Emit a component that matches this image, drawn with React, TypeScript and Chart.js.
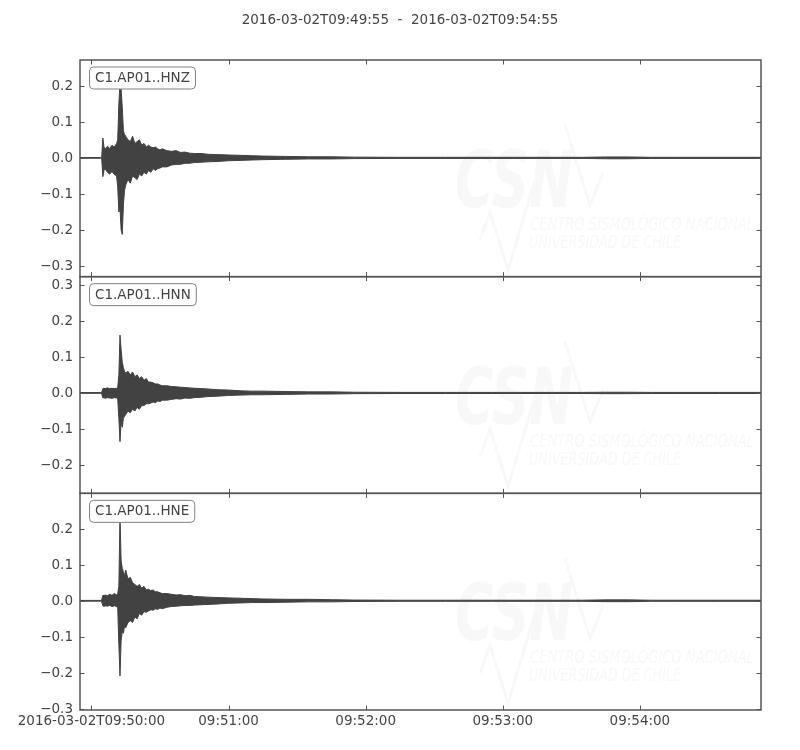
import React, { useEffect, useRef } from "react";
import { Chart, registerables } from "chart.js";

Chart.register(...registerables);

// ---------- data ----------
const TITLE = "2016-03-02T09:49:55  -  2016-03-02T09:54:55";
const CHANNELS = ["C1.AP01..HNZ", "C1.AP01..HNN", "C1.AP01..HNE"];

// seconds after 2016-03-02T09:49:55 (envelope sample times)
const T = [0, 9, 9.5, 10, 10.5, 11, 12, 13, 14, 15, 16,
  16.5, 17, 17.5, 18, 18.5, 19, 19.5, 20,
  21, 22, 23, 24, 25, 26, 27, 28, 29, 30, 31, 32, 33, 34, 35, 36,
  38, 40, 42, 44, 46, 48, 50,
  53, 56, 60,
  65, 70, 75, 80,
  90, 100, 110, 120,
  140, 160, 180, 200, 220, 230, 240, 250, 260, 280, 298];

// HNZ envelope
const HNZ_MAX = [0.001, 0.001, 0.002, 0.055, 0.03, 0.025, 0.032, 0.026, 0.035, 0.03, 0.04,
  0.05, 0.15, 0.205, 0.19, 0.14, 0.075, 0.065, 0.06,
  0.05, 0.045, 0.06, 0.04, 0.045, 0.05, 0.035, 0.04, 0.03, 0.035, 0.03, 0.028, 0.03, 0.025, 0.022, 0.025,
  0.02, 0.018, 0.02, 0.015, 0.016, 0.013, 0.012,
  0.012, 0.01, 0.009,
  0.008, 0.007, 0.006, 0.005,
  0.004, 0.003, 0.003, 0.002,
  0.0015, 0.0015, 0.0015, 0.0015, 0.0015, 0.0025, 0.0025, 0.0015, 0.0015, 0.0015, 0.0015];
const HNZ_MIN = [-0.001, -0.001, -0.002, -0.052, -0.035, -0.03, -0.04, -0.045, -0.038, -0.046, -0.05,
  -0.08, -0.15, -0.14, -0.2, -0.212, -0.13, -0.09, -0.075,
  -0.06, -0.07, -0.05, -0.055, -0.06, -0.045, -0.05, -0.04, -0.045, -0.035, -0.04, -0.03, -0.035, -0.03, -0.028, -0.025,
  -0.025, -0.02, -0.018, -0.018, -0.015, -0.015, -0.013,
  -0.012, -0.011, -0.01,
  -0.008, -0.007, -0.006, -0.005,
  -0.004, -0.003, -0.003, -0.002,
  -0.0015, -0.0015, -0.0015, -0.0015, -0.0015, -0.0025, -0.0025, -0.0015, -0.0015, -0.0015, -0.0015];

// HNN envelope
const HNN_MAX = [0.001, 0.001, 0.002, 0.012, 0.013, 0.012, 0.014, 0.012, 0.013, 0.012, 0.013,
  0.015, 0.05, 0.16, 0.12, 0.085, 0.07, 0.06, 0.055,
  0.06, 0.05, 0.058, 0.045, 0.05, 0.04, 0.045, 0.035, 0.04, 0.03, 0.03, 0.028, 0.025, 0.025, 0.022, 0.02,
  0.02, 0.018, 0.017, 0.016, 0.015, 0.014, 0.013,
  0.012, 0.011, 0.009,
  0.008, 0.006, 0.005, 0.005,
  0.004, 0.003, 0.003, 0.002,
  0.0015, 0.0015, 0.0015, 0.0015, 0.0015, 0.002, 0.002, 0.0015, 0.0015, 0.0015, 0.0015];
const HNN_MIN = [-0.001, -0.001, -0.002, -0.014, -0.013, -0.015, -0.013, -0.014, -0.015, -0.013, -0.014,
  -0.016, -0.07, -0.135, -0.08, -0.095, -0.07, -0.065, -0.06,
  -0.05, -0.055, -0.045, -0.05, -0.04, -0.045, -0.035, -0.035, -0.03, -0.03, -0.028, -0.025, -0.027, -0.022, -0.024, -0.02,
  -0.02, -0.018, -0.016, -0.017, -0.014, -0.015, -0.013,
  -0.012, -0.01, -0.009,
  -0.007, -0.006, -0.005, -0.005,
  -0.004, -0.003, -0.003, -0.002,
  -0.0015, -0.0015, -0.0015, -0.0015, -0.0015, -0.002, -0.002, -0.0015, -0.0015, -0.0015, -0.0015];

// HNE envelope
const HNE_MAX = [0.001, 0.001, 0.003, 0.015, 0.014, 0.016, 0.014, 0.018, 0.015, 0.02, 0.016,
  0.02, 0.04, 0.235, 0.11, 0.09, 0.08, 0.07, 0.085,
  0.06, 0.065, 0.05, 0.045, 0.04, 0.045, 0.035, 0.04, 0.03, 0.032, 0.028, 0.03, 0.025, 0.025, 0.022, 0.02,
  0.02, 0.018, 0.016, 0.017, 0.014, 0.015, 0.012,
  0.011, 0.01, 0.009,
  0.008, 0.007, 0.006, 0.005,
  0.004, 0.004, 0.003, 0.002,
  0.0015, 0.0015, 0.0015, 0.0015, 0.0015, 0.0025, 0.0025, 0.0015, 0.0015, 0.0015, 0.0015];
const HNE_MIN = [-0.001, -0.001, -0.003, -0.014, -0.016, -0.014, -0.015, -0.013, -0.016, -0.014, -0.016,
  -0.02, -0.12, -0.208, -0.11, -0.085, -0.09, -0.07, -0.075,
  -0.06, -0.055, -0.06, -0.045, -0.05, -0.035, -0.04, -0.03, -0.032, -0.028, -0.025, -0.026, -0.022, -0.024, -0.02, -0.022,
  -0.018, -0.016, -0.015, -0.014, -0.013, -0.013, -0.012,
  -0.011, -0.01, -0.009,
  -0.007, -0.006, -0.005, -0.005,
  -0.004, -0.003, -0.003, -0.002,
  -0.0015, -0.0015, -0.0015, -0.0015, -0.0015, -0.0025, -0.0025, -0.0015, -0.0015, -0.0015, -0.0015];

const X_RANGE = [0, 298];
const X_TICK_SECONDS = [5, 65, 125, 185, 245];
const X_TICK_LABELS = ["2016-03-02T09:50:00", "09:51:00", "09:52:00", "09:53:00", "09:54:00"];

const Y_RANGES = [[-0.329, 0.271], [-0.278, 0.322], [-0.3025, 0.2975]];
const Y_TICKS = [
  [0.2, 0.1, 0.0, -0.1, -0.2, -0.3],
  [0.3, 0.2, 0.1, 0.0, -0.1, -0.2],
  [0.2, 0.1, 0.0, -0.1, -0.2, -0.3],
];

// ---------- styles ----------
const TRACE = "#424242";
const FRAME = "#555555";
const TEXT = "#444444";
const FONT = "13.5px 'DejaVu Sans', sans-serif";
const WATERMARK = "#f8f8f8";

const fmt = (v: number) => (v < -1e-9 ? "\u2212" : "") + Math.abs(v).toFixed(1);

function roundRectPath(ctx: CanvasRenderingContext2D, x: number, y: number, w: number, h: number, r: number) {
  ctx.beginPath();
  ctx.moveTo(x + r, y);
  ctx.lineTo(x + w - r, y);
  ctx.quadraticCurveTo(x + w, y, x + w, y + r);
  ctx.lineTo(x + w, y + h - r);
  ctx.quadraticCurveTo(x + w, y + h, x + w - r, y + h);
  ctx.lineTo(x + r, y + h);
  ctx.quadraticCurveTo(x, y + h, x, y + h - r);
  ctx.lineTo(x, y + r);
  ctx.quadraticCurveTo(x, y, x + r, y);
  ctx.closePath();
}

const seismoPlugin = {
  id: "seismo",
  beforeDatasetsDraw(chart: any) {
    const ctx = chart.ctx as CanvasRenderingContext2D;
    const left = chart.chartArea.left;
    ctx.save();
    for (let p = 0; p < 3; p++) {
      const top = chart.scales["y" + p].top;
      ctx.fillStyle = WATERMARK;
      ctx.strokeStyle = WATERMARK;
      ctx.textAlign = "left";
      ctx.textBaseline = "alphabetic";
      ctx.font = "italic bold 78px 'DejaVu Sans', sans-serif";
      ctx.fillText("CSN", left + 375, top + 147, 118);
      ctx.font = "italic 17px 'DejaVu Sans', sans-serif";
      ctx.fillText("CENTRO SISMOLÓGICO NACIONAL", left + 450, top + 170, 224);
      ctx.fillText("UNIVERSIDAD DE CHILE", left + 449, top + 188, 152);
      ctx.lineWidth = 3;
      ctx.beginPath();
      ctx.moveTo(left + 400, top + 180);
      ctx.lineTo(left + 410, top + 152);
      ctx.lineTo(left + 428, top + 210);
      ctx.lineTo(left + 455, top + 120);
      ctx.moveTo(left + 485, top + 65);
      ctx.lineTo(left + 510, top + 145);
      ctx.lineTo(left + 523, top + 113);
      ctx.stroke();
    }
    ctx.restore();
  },
  afterDraw(chart: any) {
    const ctx = chart.ctx as CanvasRenderingContext2D;
    const xs = chart.scales.x;
    const { left, right } = chart.chartArea;
    ctx.save();
    ctx.fillStyle = TEXT;
    ctx.font = FONT;
    ctx.textAlign = "center";
    ctx.textBaseline = "middle";
    ctx.fillText(TITLE, chart.width / 2, 20);

    for (let p = 0; p < 3; p++) {
      const ys = chart.scales["y" + p];
      const top = ys.top;
      const bottom = ys.bottom;
      ctx.strokeStyle = FRAME;
      ctx.lineWidth = 1;
      // x ticks (inward, top and bottom)
      X_TICK_SECONDS.forEach((s) => {
        const px = Math.round(xs.getPixelForValue(s)) + 0.5;
        ctx.beginPath();
        ctx.moveTo(px, top);
        ctx.lineTo(px, top + 4.5);
        ctx.moveTo(px, bottom);
        ctx.lineTo(px, bottom - 4.5);
        ctx.stroke();
      });
      // y ticks (inward, left and right) + labels
      ctx.fillStyle = TEXT;
      ctx.font = FONT;
      ctx.textAlign = "right";
      ctx.textBaseline = "middle";
      Y_TICKS[p].forEach((v) => {
        const py = Math.round(ys.getPixelForValue(v)) + 0.5;
        ctx.beginPath();
        ctx.moveTo(left, py);
        ctx.lineTo(left + 4.5, py);
        ctx.moveTo(right, py);
        ctx.lineTo(right - 4.5, py);
        ctx.stroke();
        ctx.fillText(fmt(v), left - 7, py);
      });
      // frame
      ctx.lineWidth = 1.5;
      ctx.strokeRect(left, top, right - left, bottom - top);

      // channel label box
      ctx.font = FONT;
      const tw = ctx.measureText(CHANNELS[p]).width;
      const bx = left + 9.5;
      const by = top + 7;
      const bw = tw + 11;
      const bh = 22;
      roundRectPath(ctx, bx, by, bw, bh, 4);
      ctx.fillStyle = "#ffffff";
      ctx.fill();
      ctx.lineWidth = 1;
      ctx.strokeStyle = "#808080";
      ctx.stroke();
      ctx.fillStyle = TEXT;
      ctx.textAlign = "left";
      ctx.textBaseline = "middle";
      ctx.fillText(CHANNELS[p], bx + 5.5, by + bh / 2 + 0.5);

      if (p === 2) {
        ctx.textAlign = "center";
        ctx.textBaseline = "middle";
        X_TICK_SECONDS.forEach((s, i) => {
          ctx.fillText(X_TICK_LABELS[i], xs.getPixelForValue(s), bottom + 11);
        });
      }
    }
    ctx.restore();
  },
};

export default function App() {
  const ref = useRef<HTMLCanvasElement | null>(null);

  useEffect(() => {
    if (!ref.current) return;
    const maxes = [HNZ_MAX, HNN_MAX, HNE_MAX];
    const mins = [HNZ_MIN, HNN_MIN, HNE_MIN];
    const datasets: any[] = [];
    for (let p = 0; p < 3; p++) {
      datasets.push({
        label: CHANNELS[p] + " max",
        data: T.map((t, i) => ({ x: t, y: maxes[p][i] })),
        yAxisID: "y" + p,
        borderColor: TRACE,
        borderWidth: 1,
        pointRadius: 0,
        fill: false,
      });
      datasets.push({
        label: CHANNELS[p] + " min",
        data: T.map((t, i) => ({ x: t, y: mins[p][i] })),
        yAxisID: "y" + p,
        borderColor: TRACE,
        backgroundColor: TRACE,
        borderWidth: 1,
        pointRadius: 0,
        fill: "-1",
      });
    }
    const yScale = (p: number) => ({
      type: "linear",
      position: "left",
      stack: "panels",
      stackWeight: 1,
      weight: 3 - p,
      min: Y_RANGES[p][0],
      max: Y_RANGES[p][1],
      ticks: { display: false },
      grid: { display: false },
      border: { display: false },
      afterFit: (s: any) => {
        s.width = 0;
      },
    });
    const chart = new Chart(ref.current, {
      type: "line",
      data: { datasets },
      options: {
        responsive: false,
        animation: false,
        devicePixelRatio: 1,
        layout: { padding: { left: 80, top: 60, right: 39, bottom: 40 } },
        plugins: {
          legend: { display: false },
          tooltip: { enabled: false },
          title: { display: false },
        },
        scales: {
          x: {
            type: "linear",
            min: X_RANGE[0],
            max: X_RANGE[1],
            ticks: { display: false },
            grid: { display: false },
            border: { display: false },
            afterFit: (s: any) => {
              s.height = 0;
            },
          },
          y0: yScale(0),
          y1: yScale(1),
          y2: yScale(2),
        } as any,
      },
      plugins: [seismoPlugin],
    } as any);
    return () => chart.destroy();
  }, []);

  return (
    <div style={{ position: "fixed", left: 0, top: 0, width: 800, height: 750, background: "#ffffff" }}>
      <canvas ref={ref} width={800} height={750} style={{ width: 800, height: 750, display: "block" }} />
    </div>
  );
}
